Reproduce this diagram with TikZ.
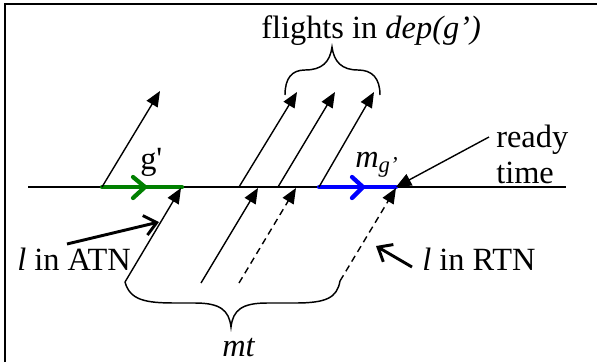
\documentclass[tikz,border=0pt]{standalone}
\usepackage{fontspec}
\setmainfont{Liberation Serif}
\newfontfamily\rawserif[Ligatures=TeXOff]{Liberation Serif}
\usetikzlibrary{arrows.meta}
\definecolor{pgreen}{RGB}{0,128,0}
\definecolor{pblue}{RGB}{0,0,255}
\begin{document}
\begin{tikzpicture}[x=0.75pt,y=-0.75pt,
  lbl/.style={inner sep=0pt, anchor=base west, font=\fontsize{24.3}{28}\selectfont},
  flight/.style={line width=1.05pt, -{Triangle[length=11.5pt,width=9.5pt]}},
  dflight/.style={flight, dash pattern=on 5pt off 3.5pt},
  pointer/.style={line width=2.2pt, -{Straight Barb[length=9pt,width=15pt]}},
  readyarrow/.style={line width=1.05pt, -{Triangle[length=11.5pt,width=9.5pt]}},
  bracestyle/.style={line width=1.1pt},
  timeline/.style={line width=1.3pt},
  seg/.style={line width=3.2pt, line cap=round, line join=round},
  frame/.style={line width=1.6pt}]
\useasboundingbox (0,0) rectangle (597,362);
% frame (right and bottom edges lie outside the picture)
\draw[frame] (5,362) -- (5,4) -- (597,4);

% time line
\coordinate (tlL) at (28,187);
\coordinate (tlR) at (566,187);
\draw[timeline] (tlL) -- (tlR);

% coloured segments
\coordinate (gS) at (102,187); \coordinate (gE) at (182,187);
\coordinate (bS) at (319,187); \coordinate (bE) at (396,187);
\draw[seg, pgreen] (gS) -- (gE);
\draw[seg, pgreen] (133,177) -- (145,187) -- (133,198);
\draw[seg, pblue] (bS) -- (bE);
\draw[seg, pblue] (352,177) -- (363,187) -- (352,198);

% flights leaving (above)
\coordinate (u1s) at (102,187); \coordinate (u1e) at (160,91);
\coordinate (u2s) at (239,187); \coordinate (u2e) at (297,92);
\coordinate (u3s) at (278,187); \coordinate (u3e) at (335,92);
\coordinate (u4s) at (319,187); \coordinate (u4e) at (374,92);
\draw[flight] (u1s) -- (u1e);
\draw[flight] (u2s) -- (u2e);
\draw[flight] (u3s) -- (u3e);
\draw[flight] (u4s) -- (u4e);

% flights arriving (below)
\coordinate (d1s) at (125,282); \coordinate (d1e) at (181,188);
\coordinate (d2s) at (201,283); \coordinate (d2e) at (258,188);
\coordinate (d3s) at (239,283); \coordinate (d3e) at (296,188);
\coordinate (d4s) at (340,281); \coordinate (d4e) at (396,188);
\draw[flight] (d1s) -- (d1e);
\draw[flight] (d2s) -- (d2e);
\draw[dflight] (d3s) -- (d3e);
\draw[dflight] (d4s) -- (d4e);

% top brace
\draw[bracestyle] (285,95) .. controls (285,78) and (292,70) .. (305,70)
  .. controls (322,70) and (330,62) .. (332,47)
  .. controls (334,62) and (342,70) .. (358,70)
  .. controls (372,70) and (380,78) .. (380,95);
% bottom brace
\draw[bracestyle] (125,282) .. controls (130,300) and (145,303) .. (175,303)
  -- (195,303) .. controls (220,303) and (229,310) .. (231,327)
  .. controls (233,310) and (242,303) .. (267,303)
  -- (295,303) .. controls (326,303) and (337,298) .. (340,281);

% labels
\node[lbl] (flt) at (261,38) {flights in \textit{dep(g')}};
\node[lbl] (gp) at (140,169) {g{\rawserif '}};
\node[lbl] (mg) at (355,167) {\textit{m}\raisebox{-4pt}{\fontsize{17}{17}\selectfont\textit{g'}}};
\node[lbl] (rdy) at (496,147) {ready};
\node[lbl] (tim) at (496,183) {time};
\node[lbl] (atn) at (17,270) {\textit{l} in ATN};
\node[lbl] (rtn) at (422,270) {\textit{l} in RTN};
\node[lbl] (mt) at (222,356) {\textit{mt}};

% pointers
\coordinate (rtS) at (489,137); \coordinate (rtE) at (396,187);
\draw[readyarrow] (rtS) -- (rtE);
\coordinate (aS) at (67,244); \coordinate (aE) at (159,222);
\draw[pointer] (aS) -- (aE);
\coordinate (rS) at (412,267); \coordinate (rE) at (376,246);
\draw[pointer] (rS) -- (rE);
\end{tikzpicture}
\end{document}
